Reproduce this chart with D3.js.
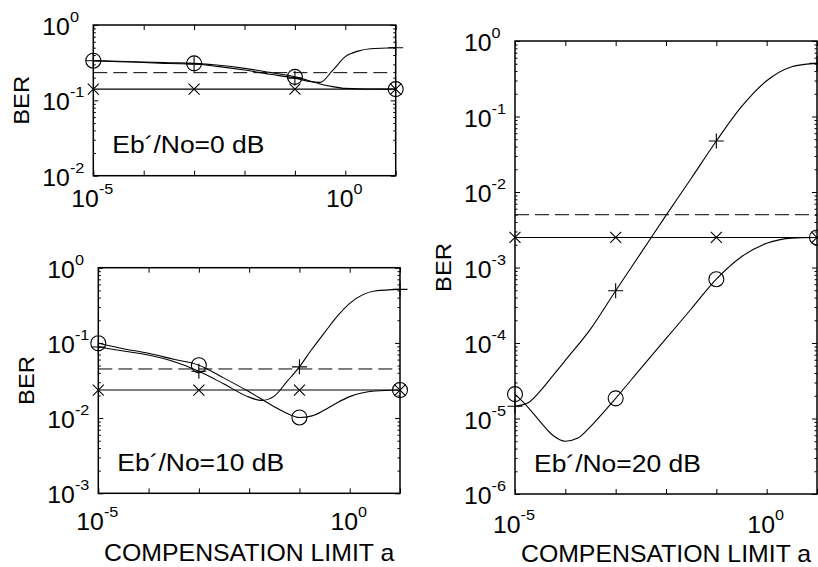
<!DOCTYPE html>
<html>
<head>
<meta charset="utf-8">
<script src="https://cdn.jsdelivr.net/npm/d3@7"></script>
<style>
  body { margin: 0; background: #fff; }
  text { font-family: "Liberation Sans", Arial, sans-serif; fill: #000; }
</style>
</head>
<body>
<div id="chart"></div>
<script>
// x positions where markers sit
const markerX = [1e-5, 1e-3, 1e-1, 10];
const xDomain = [1e-5, 10];
const xLabelValues = [1e-5, 1];
const xLabelText = ['-5', '0'];

// Eb'/No = 0 dB
const p0PlusX = [1e-5, 3.16e-5, 1e-4, 3.16e-4, 1e-3, 3.16e-3, 0.01, 0.0316, 0.1, 0.178, 0.316, 0.562, 1, 1.78, 3.16, 10];
const p0PlusY = [0.336, 0.326, 0.318, 0.308, 0.303, 0.28, 0.253, 0.222, 0.197, 0.18, 0.173, 0.25, 0.38, 0.45, 0.485, 0.5];
const p0CircX = [1e-5, 3.16e-5, 1e-4, 3.16e-4, 1e-3, 3.16e-3, 0.01, 0.0316, 0.1, 0.178, 0.316, 0.562, 1, 3.16, 10];
const p0CircY = [0.336, 0.33, 0.323, 0.316, 0.31, 0.292, 0.266, 0.235, 0.205, 0.185, 0.165, 0.152, 0.144, 0.141, 0.141];
const p0CrossY = [0.141, 0.141, 0.141, 0.141];
const p0DashY = 0.233;

// Eb'/No = 10 dB
const p10PlusX = [1e-5, 3.16e-5, 1e-4, 3.16e-4, 1e-3, 3.16e-3, 0.01, 0.0178, 0.0316, 0.0562, 0.1, 0.178, 0.316, 0.562, 1, 3.16, 10];
const p10PlusY = [0.088, 0.078, 0.069, 0.0565, 0.042, 0.0284, 0.019, 0.0172, 0.0196, 0.0305, 0.048, 0.083, 0.137, 0.225, 0.336, 0.49, 0.515];
const p10CircX = [1e-5, 3.16e-5, 1e-4, 3.16e-4, 1e-3, 3.16e-3, 0.01, 0.0316, 0.0562, 0.1, 0.178, 0.316, 0.562, 1, 3.16, 10];
const p10CircY = [0.099, 0.0837, 0.0727, 0.0605, 0.0505, 0.034, 0.0224, 0.0142, 0.0116, 0.0102, 0.0107, 0.0128, 0.016, 0.0193, 0.0229, 0.0236];
const p10CrossY = [0.0236, 0.0236, 0.0236, 0.0236];
const p10DashY = 0.045;

// Eb'/No = 20 dB
const p20PlusX = [1e-5, 1.78e-5, 3.16e-5, 5.62e-5, 1e-4, 3.16e-4, 1e-3, 3.16e-3, 0.01, 0.0316, 0.1, 0.316, 1, 3.16, 5.62, 10];
const p20PlusY = [1.45e-5, 1.6e-5, 2.3e-5, 3.66e-5, 5.9e-5, 1.53e-4, 4.93e-4, 1.55e-3, 4.9e-3, 1.51e-2, 4.73e-2, 0.135, 0.298, 0.457, 0.49, 0.506];
const p20CircX = [1e-5, 1.78e-5, 3.16e-5, 5.62e-5, 1e-4, 1.78e-4, 3.16e-4, 5.62e-4, 1e-3, 3.16e-3, 0.01, 0.0316, 0.1, 0.316, 1, 3.16, 10];
const p20CircY = [2.1e-5, 1.43e-5, 9.1e-6, 6.0e-6, 5.0e-6, 5.5e-6, 7.8e-6, 1.19e-5, 1.85e-5, 4.6e-5, 1.14e-4, 2.82e-4, 7.0e-4, 1.39e-3, 2.09e-3, 2.45e-3, 2.5e-3];
const p20CrossY = [0.0025, 0.0025, 0.0025, 0.0025];
const p20DashY = 0.005;

const width = 818;
const height = 567;
const stretch = 1.08; // glyphs in the figure are a bit wider than Arial

const panels = [
  {left: 93.3, top: 25, right: 395.7, bottom: 175.7, yMin: 1e-2,
    yExp: ['0', '-1', '-2'], title: 'Eb\u00b4/No=0 dB', xLabelDy: 31, showXTitle: false,
    plusX: p0PlusX, plusY: p0PlusY, circX: p0CircX, circY: p0CircY, crossY: p0CrossY, dashY: p0DashY},
  {left: 98.3, top: 267.7, right: 400, bottom: 493.3, yMin: 1e-3,
    yExp: ['0', '-1', '-2', '-3'], title: 'Eb\u00b4/No=10 dB', xLabelDy: 37, showXTitle: true,
    plusX: p10PlusX, plusY: p10PlusY, circX: p10CircX, circY: p10CircY, crossY: p10CrossY, dashY: p10DashY},
  {left: 515, top: 41, right: 817, bottom: 494, yMin: 1e-6,
    yExp: ['0', '-1', '-2', '-3', '-4', '-5', '-6'], title: 'Eb\u00b4/No=20 dB', xLabelDy: 39, showXTitle: true,
    plusX: p20PlusX, plusY: p20PlusY, circX: p20CircX, circY: p20CircY, crossY: p20CrossY, dashY: p20DashY}
];

const svg = d3.select('#chart')
  .append('svg')
  .attr('width', width)
  .attr('height', height);

function isMarkerX(v) {
  return markerX.some(function(m) { return Math.abs(Math.log10(v) - Math.log10(m)) < 1e-6; });
}

function wideText(g, x, y, str, size, anchor, rotate) {
  let t = g.append('text')
    .attr('transform', 'translate(' + x + ',' + y + ')' + (rotate ? ' rotate(' + rotate + ')' : '') + ' scale(' + stretch + ',1)')
    .attr('text-anchor', anchor)
    .style('font-size', size + 'px')
    .text(str);
  return t;
}

function powerLabel(g, x, y, exp, anchor) {
  let t = g.append('text')
    .attr('transform', 'translate(' + x + ',' + y + ') scale(' + stretch + ',1)')
    .attr('text-anchor', anchor)
    .style('font-size', '23px');
  t.append('tspan').text('10');
  t.append('tspan').attr('dy', -13).style('font-size', '15px').text(exp);
}

function drawPanel(p) {
  let g = svg.append('g');
  let x = d3.scaleLog().domain(xDomain).range([p.left, p.right]);
  let y = d3.scaleLog().domain([p.yMin, 1]).range([p.bottom, p.top]);

  let decadesX = x.ticks().filter(function(v) { return Math.abs(Math.log10(v) % 1) < 1e-6; });
  let allY = y.ticks();
  let decadesY = allY.filter(function(v) { return Math.abs(Math.log10(v) % 1) < 1e-6; });
  let minorY = allY.filter(function(v) { return Math.abs(Math.log10(v) % 1) > 1e-6; });

  // ticks pointing inward on all four sides
  g.append('g').attr('transform', 'translate(0,' + p.bottom + ')')
    .call(d3.axisBottom(x).tickValues(decadesX).tickSize(-5).tickFormat(''));
  g.append('g').attr('transform', 'translate(0,' + p.top + ')')
    .call(d3.axisTop(x).tickValues(decadesX).tickSize(-5).tickFormat(''));
  g.append('g').attr('transform', 'translate(' + p.left + ',0)')
    .call(d3.axisLeft(y).tickValues(decadesY).tickSize(-5).tickFormat(''));
  g.append('g').attr('transform', 'translate(' + p.left + ',0)')
    .call(d3.axisLeft(y).tickValues(minorY).tickSize(-2.5).tickFormat(''));
  g.append('g').attr('transform', 'translate(' + p.right + ',0)')
    .call(d3.axisRight(y).tickValues(decadesY).tickSize(-5).tickFormat(''));
  g.append('g').attr('transform', 'translate(' + p.right + ',0)')
    .call(d3.axisRight(y).tickValues(minorY).tickSize(-2.5).tickFormat(''));
  g.selectAll('.domain').remove();
  g.selectAll('.tick line').attr('stroke', '#000').attr('stroke-width', 1);

  g.append('rect')
    .attr('x', p.left)
    .attr('y', p.top)
    .attr('width', p.right - p.left)
    .attr('height', p.bottom - p.top)
    .attr('fill', 'none')
    .attr('stroke', '#000')
    .attr('stroke-width', 1.5);

  // tick labels
  decadesY.forEach(function(v) {
    powerLabel(g, p.left - 51, y(v) + 10, p.yExp[Math.round(-Math.log10(v))], 'start');
  });
  xLabelValues.forEach(function(v, i) {
    powerLabel(g, x(v) - 1, p.bottom + p.xLabelDy, xLabelText[i], 'middle');
  });

  wideText(g, p.left - 64, (p.top + p.bottom) / 2, 'BER', 22, 'middle', -90);
  if (p.showXTitle) {
    wideText(g, (p.left + p.right) / 2, p.bottom + 68, 'COMPENSATION LIMIT a', 23, 'middle');
  }
  wideText(g, p.left + 19, p.bottom - 22.5, p.title, 24.5, 'start');

  let line = d3.line()
    .x(function(d) { return x(d[0]); })
    .y(function(d) { return y(d[1]); })
    .curve(d3.curveMonotoneX);

  let plus = d3.zip(p.plusX, p.plusY);
  let circ = d3.zip(p.circX, p.circY);
  let cross = d3.zip(markerX, p.crossY);

  // dashed reference level
  g.append('path')
    .attr('d', line([[xDomain[0], p.dashY], [xDomain[1], p.dashY]]))
    .attr('fill', 'none')
    .attr('stroke', '#000')
    .attr('stroke-width', 1)
    .attr('stroke-dasharray', '14,6');

  [cross, plus, circ].forEach(function(s) {
    g.append('path')
      .attr('d', line(s))
      .attr('fill', 'none')
      .attr('stroke', '#000')
      .attr('stroke-width', 1.1);
  });

  // markers
  g.selectAll('.mk-cross')
    .data(cross)
    .enter().append('path')
    .attr('d', function(d) {
      let cx = x(d[0]), cy = y(d[1]), r = 5.5;
      return 'M' + (cx - r) + ',' + (cy - r) + 'L' + (cx + r) + ',' + (cy + r) +
        'M' + (cx - r) + ',' + (cy + r) + 'L' + (cx + r) + ',' + (cy - r);
    })
    .attr('stroke', '#000')
    .attr('stroke-width', 1.1);

  g.selectAll('.mk-plus')
    .data(plus.filter(function(d) { return isMarkerX(d[0]); }))
    .enter().append('path')
    .attr('d', function(d) {
      let cx = x(d[0]), cy = y(d[1]), r = 7.5;
      return 'M' + (cx - r) + ',' + cy + 'L' + (cx + r) + ',' + cy +
        'M' + cx + ',' + (cy - r) + 'L' + cx + ',' + (cy + r);
    })
    .attr('stroke', '#000')
    .attr('stroke-width', 1.1);

  g.selectAll('.mk-circ')
    .data(circ.filter(function(d) { return isMarkerX(d[0]); }))
    .enter().append('circle')
    .attr('cx', function(d) { return x(d[0]); })
    .attr('cy', function(d) { return y(d[1]); })
    .attr('r', 7.5)
    .attr('fill', 'none')
    .attr('stroke', '#000')
    .attr('stroke-width', 1.1);
}

panels.forEach(drawPanel);
</script>
</body>
</html>
